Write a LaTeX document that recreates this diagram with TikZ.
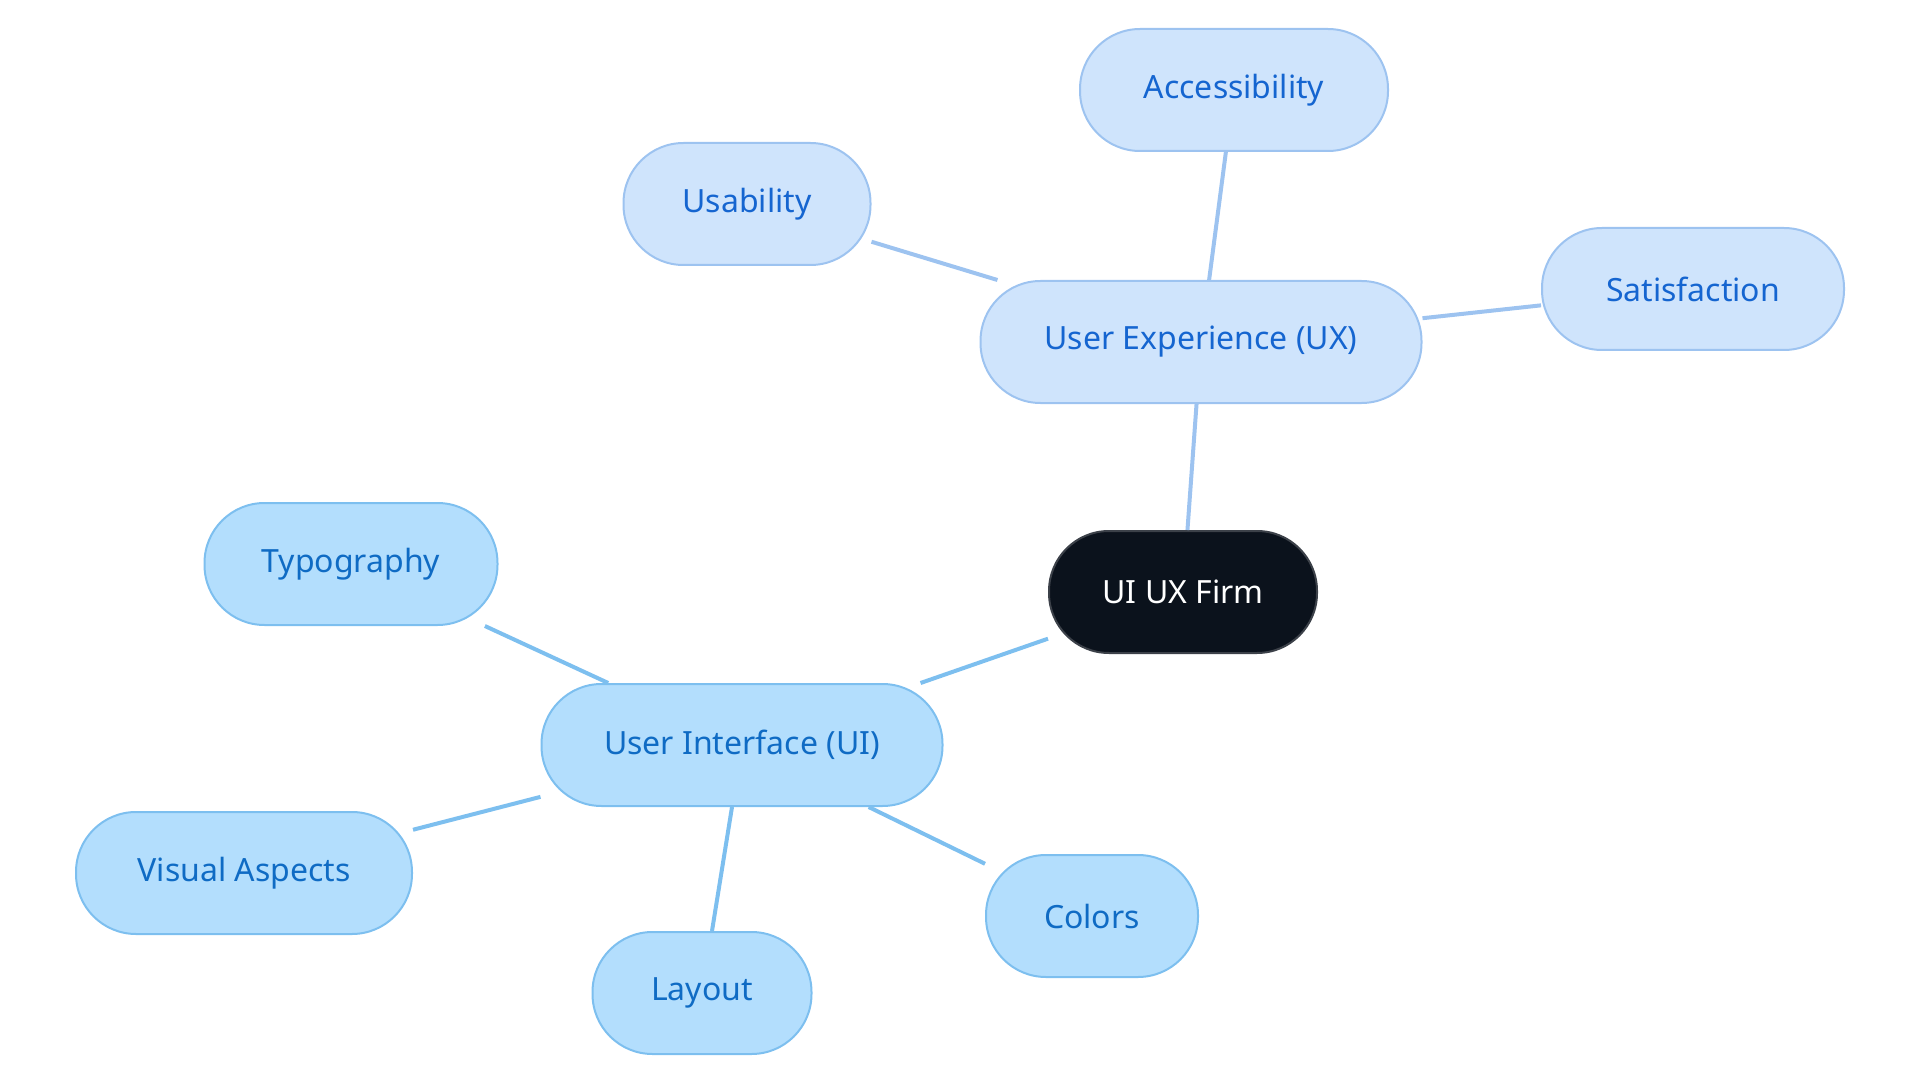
\documentclass[tikz,border=0pt]{standalone}
\usepackage{fontspec}
\setmainfont{Noto Sans}
\definecolor{uxf}{HTML}{CFE4FC}
\definecolor{uxb}{HTML}{9DC3F0}
\definecolor{uxt}{HTML}{1565D0}
\definecolor{uif}{HTML}{B3DEFD}
\definecolor{uib}{HTML}{7DBFEF}
\definecolor{uit}{HTML}{0F6BC4}
\definecolor{ctr}{HTML}{0B121C}
\begin{document}
\begin{tikzpicture}[x=1pt,y=-1pt,
  base/.style={rounded corners=60pt,minimum height=122pt,line width=2pt,font=\fontsize{32}{38}\selectfont,inner sep=0pt},
  ux/.style={base,draw=uxb,fill=uxf,text=uxt},
  ui/.style={base,draw=uib,fill=uif,text=uit},
  uxl/.style={draw=uxb,line width=4pt},
  uil/.style={draw=uib,line width=4pt}]
\useasboundingbox (0,0) rectangle (1920,1083);
\node[base,draw=ctr!80!white,fill=ctr,text=white,minimum width=268pt] (c) at (1183,592) {UI UX Firm};
\node[ux,minimum width=441pt] (ux) at (1201,342) {User Experience (UX)};
\node[ux,minimum width=308pt] (acc) at (1234,90) {Accessibility};
\node[ux,minimum width=247pt] (us) at (747,204) {Usability};
\node[ux,minimum width=302pt] (sat) at (1693,289) {Satisfaction};
\node[ui,minimum width=401pt] (ui) at (742,745) {User Interface (UI)};
\node[ui,minimum width=293pt] (ty) at (351,564) {Typography};
\node[ui,minimum width=336pt] (va) at (244,873) {Visual Aspects};
\node[ui,minimum width=219pt] (la) at (702,993) {Layout};
\node[ui,minimum width=212pt] (co) at (1092,916) {Colors};
\begin{scope}[on background layer/.style={}]
\end{scope}
\path[uxl] (c) -- (ux);
\path[uxl] (ux) -- (acc);
\path[uxl] (ux) -- (us);
\path[uxl] (ux) -- (sat);
\path[uil] (c) -- (ui);
\path[uil] (ui) -- (ty);
\path[uil] (ui) -- (va);
\path[uil] (ui) -- (la);
\path[uil] (ui) -- (co);
\end{tikzpicture}
\end{document}
